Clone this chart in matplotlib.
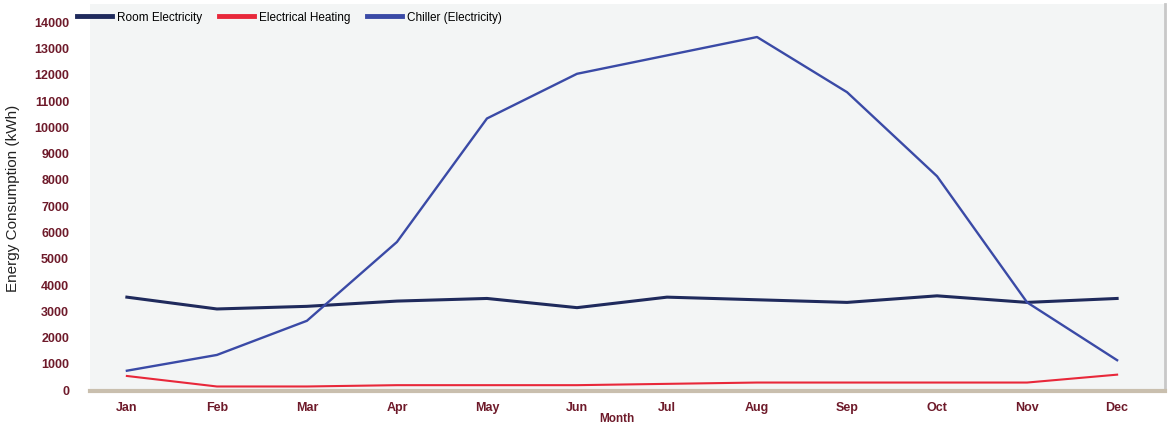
import matplotlib.pyplot as plt
import numpy as np

months = ["Jan", "Feb", "Mar", "Apr", "May", "Jun", "Jul", "Aug", "Sep", "Oct", "Nov", "Dec"]
room_electricity = [3500, 3050, 3150, 3350, 3450, 3100, 3500, 3400, 3300, 3550, 3300, 3450]
electrical_heating = [500, 100, 100, 150, 150, 150, 200, 250, 250, 250, 250, 550]
chiller = [700, 1300, 2600, 5600, 10300, 12000, 12700, 13400, 11300, 8100, 3300, 1100]

plt.rcParams["font.family"] = ["Liberation Sans", "DejaVu Sans"]
tick_color = "#6e1a2a"

fig = plt.figure(figsize=(11.76, 4.31), dpi=100)
ax = fig.add_axes([0.0765, 0.09, 0.914, 0.898])
ax.set_facecolor("#f3f5f5")

x = np.arange(len(months))
ax.plot(x, room_electricity, color="#1f2a5c", lw=2.2, label="Room Electricity")
ax.plot(x, electrical_heating, color="#e8283a", lw=1.5, label="Electrical Heating")
ax.plot(x, chiller, color="#3a4aa6", lw=1.7, label="Chiller (Electricity)")

ax.set_xlim(-0.41, 11.53)
ax.set_ylim(-80, 14650)
ax.set_yticks(np.arange(0, 14001, 1000))
ax.set_xticks(x)
ax.set_xticklabels(months)
ax.tick_params(axis="both", length=0, labelsize=9, colors=tick_color)
ax.tick_params(axis="y", pad=15)
ax.tick_params(axis="x", pad=7)
for lbl in ax.get_yticklabels() + ax.get_xticklabels():
    lbl.set_fontweight("bold")

ax.set_ylabel("Energy Consumption (kWh)", fontsize=11, color="#222222", labelpad=10)
ax.set_xlabel("Month", fontsize=8.5, color=tick_color, fontweight="bold", labelpad=1)
ax.xaxis.set_label_coords(0.49, -0.055)

for s in ["top", "left"]:
    ax.spines[s].set_visible(False)
ax.spines["right"].set_color("#c8c8c8")
ax.spines["right"].set_linewidth(2)
ax.spines["bottom"].set_color("#c9bfae")
ax.spines["bottom"].set_linewidth(3)

leg = ax.legend(loc="upper left", bbox_to_anchor=(-0.022, 1.01), ncol=3, frameon=False,
                fontsize=8.5, handlelength=3.0, columnspacing=1.4, handletextpad=0.4)
for line in leg.get_lines():
    line.set_linewidth(3.5)

fig.savefig("out.png", dpi=100)
